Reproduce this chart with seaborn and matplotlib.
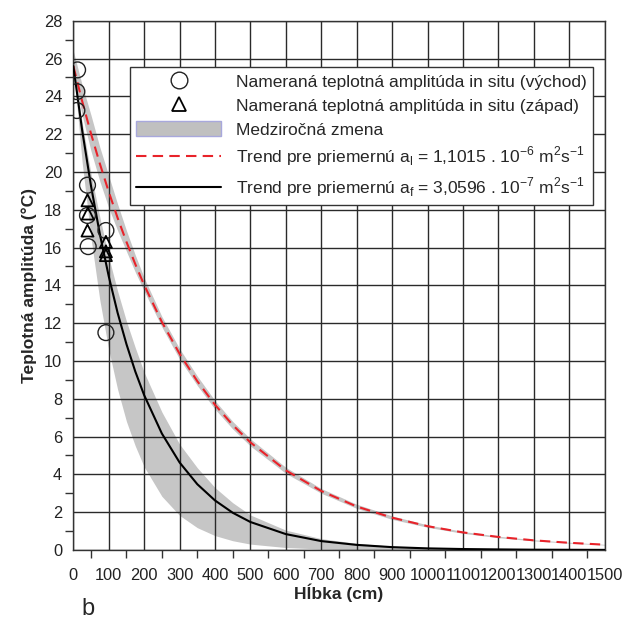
import numpy as np
import pandas as pd
import seaborn as sns
import matplotlib.pyplot as plt
from matplotlib.lines import Line2D
from matplotlib.patches import Patch
from matplotlib.ticker import MultipleLocator

# hĺbky, v ktorých sú odčítané krivky (cm)
hlbka = [0, 25, 50, 75, 100, 125, 150, 175, 200, 250, 300, 350, 400, 450, 500,
         600, 700, 800, 900, 1000, 1100, 1200, 1300, 1400, 1500]

# trend pre a_l (červená prerušovaná)
trend_l = [25.6, 23.74, 22.02, 20.43, 18.95, 17.57, 16.30, 15.12, 14.02, 12.06, 10.38, 8.93, 7.68, 6.61, 5.69,
           4.21, 3.12, 2.30, 1.71, 1.26, 0.93, 0.69, 0.51, 0.38, 0.28]
pas_l_dol = [25.2, 23.0, 21.1, 19.5, 18.1, 16.9, 15.8, 14.7, 13.7, 11.8, 10.1, 8.7, 7.45, 6.4, 5.5,
             4.05, 3.0, 2.2, 1.62, 1.2, 0.88, 0.65, 0.48, 0.36, 0.26]
pas_l_hor = [26.4, 24.6, 23.0, 21.3, 19.8, 18.3, 16.9, 15.6, 14.4, 12.35, 10.65, 9.2, 7.9, 6.8, 5.88,
             4.37, 3.25, 2.42, 1.8, 1.33, 0.98, 0.73, 0.54, 0.41, 0.30]

# trend pre a_f (čierna plná)
trend_f = [25.6, 22.2, 19.25, 16.7, 14.48, 12.55, 10.89, 9.44, 8.19, 6.16, 4.63, 3.48, 2.62, 1.97, 1.48,
           0.84, 0.47, 0.27, 0.15, 0.085, 0.05, 0.03, 0.015, 0.01, 0.005]
pas_f_dol = [25.6, 20.5, 16.5, 13.2, 10.6, 8.5, 6.8, 5.5, 4.4, 2.84, 1.83, 1.18, 0.76, 0.49, 0.31,
             0.13, 0.05, 0.02, 0.01, 0.0, 0.0, 0.0, 0.0, 0.0, 0.0]
pas_f_hor = [25.6, 22.6, 19.9, 17.6, 15.5, 13.7, 12.1, 10.7, 9.4, 7.3, 5.6, 4.35, 3.3, 2.5, 1.85,
             1.05, 0.6, 0.35, 0.2, 0.12, 0.07, 0.04, 0.025, 0.015, 0.01]

# merania in situ
vychod_hlbka = [12, 10, 10, 40, 40, 42, 92, 92]
vychod_ampl = [25.4, 24.25, 23.25, 19.3, 17.7, 16.05, 16.9, 11.5]
zapad_hlbka = [40, 41, 40, 92, 92, 92]
zapad_ampl = [18.5, 17.8, 16.9, 16.3, 15.8, 15.6]

lab_vychod = 'Nameraná teplotná amplitúda in situ (východ)'
lab_zapad = 'Nameraná teplotná amplitúda in situ (západ)'
lab_pas = 'Medziročná zmena'
lab_l = r'Trend pre priemernú a$_\mathregular{l}$ = 1,1015 . 10$^\mathregular{-6}$ m$^\mathregular{2}$s$^\mathregular{-1}$'
lab_f = r'Trend pre priemernú a$_\mathregular{f}$ = 3,0596 . 10$^\mathregular{-7}$ m$^\mathregular{2}$s$^\mathregular{-1}$'

sns.set_style('white')
plt.rcParams['font.family'] = ['Liberation Sans', 'DejaVu Sans']

fig = plt.figure(figsize=(6.24, 6.19), dpi=100)
ax = fig.add_axes([0.1175, 0.1115, 0.8515, 0.855])

siva = '#c6c6c6'
ax.fill_between(hlbka, pas_f_dol, pas_f_hor, color=siva, lw=0, zorder=0.3)
ax.fill_between(hlbka, pas_l_dol, pas_l_hor, color=siva, lw=0, zorder=0.3)

df = pd.DataFrame({'hlbka': hlbka, 'l': trend_l, 'f': trend_f})
sns.lineplot(data=df, x='hlbka', y='l', ax=ax, color='#e8232a', lw=1.5,
             zorder=3).lines[-1].set_dashes([5, 3])
sns.lineplot(data=df, x='hlbka', y='f', ax=ax, color='black', lw=1.5, zorder=3)

sns.scatterplot(x=vychod_hlbka, y=vychod_ampl, ax=ax, marker='o', s=130,
                facecolor='none', edgecolor='#222222', linewidth=1.0, zorder=4)
sns.scatterplot(x=zapad_hlbka, y=zapad_ampl, ax=ax, marker='^', s=75,
                facecolor='none', edgecolor='black', linewidth=1.3, zorder=4)

ax.set_xlim(0, 1500)
ax.set_ylim(0, 28)
ax.xaxis.set_major_locator(MultipleLocator(100))
ax.xaxis.set_minor_locator(MultipleLocator(50))
ax.yaxis.set_major_locator(MultipleLocator(2))
ax.yaxis.set_minor_locator(MultipleLocator(1))
ax.tick_params(which='major', length=0, labelsize=11.8, colors='#222222')
ax.tick_params(axis='x', which='major', pad=13)
ax.tick_params(axis='y', which='major', pad=8)
ax.tick_params(which='minor', length=6, width=1, color='#333333', direction='out')
ax.tick_params(which='minor', bottom=True, left=True)
ax.set_axisbelow(True)
ax.grid(True, which='major', color='#2a2a2a', lw=1.0)
for s in ax.spines.values():
    s.set_color('#333333')
    s.set_linewidth(1.0)

ax.set_xlabel('Hĺbka (cm)', fontsize=12.5, fontweight='bold', labelpad=0)
ax.set_ylabel('Teplotná amplitúda (°C)', fontsize=12.5, fontweight='bold', labelpad=5)

handles = [
    Line2D([], [], ls='none', marker='o', ms=12, mfc='none', mec='#222222', mew=1.0),
    Line2D([], [], ls='none', marker='^', ms=9.5, mfc='none', mec='black', mew=1.3),
    Patch(facecolor='#c0c0c0', edgecolor='#a8a8dc', lw=1.0),
    Line2D([], [], color='#e8232a', lw=1.5, dashes=[5, 3]),
    Line2D([], [], color='black', lw=1.5),
]
leg = ax.legend(handles, [lab_vychod, lab_zapad, lab_pas, lab_l, lab_f],
                loc='upper right', bbox_to_anchor=(0.978, 0.913), borderaxespad=0,
                fontsize=12.5, handlelength=4.9, handleheight=1.0, handletextpad=0.85,
                labelspacing=0.42, borderpad=0.35, numpoints=1, fancybox=False,
                framealpha=1, edgecolor='#333333')
leg.get_frame().set_linewidth(1.0)
leg.set_zorder(5)

fig.text(88 / 624, 1 - 609 / 619, 'b', fontsize=17, ha='center', va='center')

fig.savefig('out.png', dpi=100)
